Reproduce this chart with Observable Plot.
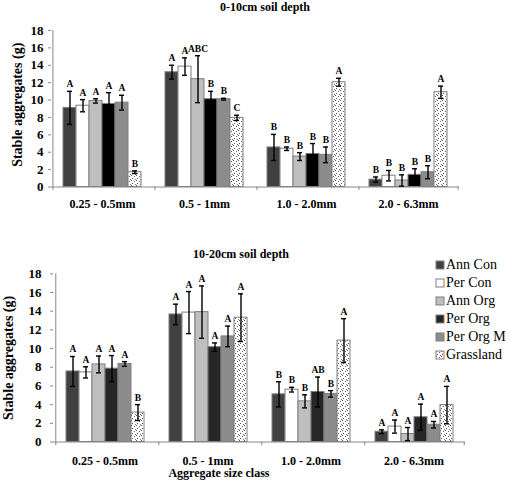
<!DOCTYPE html>
<html>
<head>
<meta charset="utf-8">
<script src="https://cdn.jsdelivr.net/npm/d3@7"></script>
<script src="https://cdn.jsdelivr.net/npm/@observablehq/plot@0.6"></script>
<style>
  html, body { margin: 0; padding: 0; background: #fff; }
  #wrap { position: relative; width: 510px; height: 482px; overflow: hidden; font-family: "Liberation Serif", serif; }
  #wrap > svg { display: block; }
  .lbl { position: absolute; font-weight: bold; white-space: nowrap; color: #000; transform: translateX(-50%); line-height: 14px; }
  #legend { position: absolute; left: 436px; top: 256px; }
  #legend [class$="-swatch"] { height: 18px; margin: 0; padding: 0; }
  #legend svg { margin-right: 2px !important; overflow: visible; }
  #legend svg rect { stroke: #7f7f7f; stroke-width: 1; }
</style>
</head>
<body>
<div id="wrap">
  <svg width="0" height="0" style="position:absolute">
    <defs>
      <pattern id="dots" width="5" height="5" patternUnits="userSpaceOnUse">
        <rect width="5" height="5" fill="#ffffff"></rect>
        <rect x="0" y="0" width="1" height="1" fill="#555"></rect>
        <rect x="3" y="1" width="1" height="1" fill="#666"></rect>
        <rect x="1" y="3" width="1" height="1" fill="#555"></rect>
        <rect x="4" y="4" width="1" height="1" fill="#777"></rect>
      </pattern>
    </defs>
  </svg>
</div>
<script>
const cats = ["0.25 - 0.5mm", "0.5 - 1mm", "1.0 - 2.0mm", "2.0 - 6.3mm"];
const trts = ["Ann Con", "Per Con", "Ann Org", "Per Org", "Per Org M", "Grassland"];
const yTicks = [0, 2, 4, 6, 8, 10, 12, 14, 16, 18];

// 0-10cm soil depth
const topMean = [
  [9.1, 9.35, 9.9, 9.55, 9.7, 1.7],
  [13.2, 13.85, 12.4, 10.1, 10.1, 7.95],
  [4.55, 4.4, 3.5, 3.8, 3.7, 12.05],
  [0.85, 1.3, 0.75, 1.4, 1.7, 10.9]
];
const topErr = [
  [1.9, 0.7, 0.25, 1.3, 0.85, 0.15],
  [0.8, 1.0, 2.7, 0.9, 0.1, 0.3],
  [1.5, 0.2, 0.45, 1.2, 0.9, 0.45],
  [0.3, 0.6, 0.65, 0.7, 0.75, 0.7]
];
const topLetters = [
  ["A", "A", "A", "A", "A", "B"],
  ["A", "A", "ABC", "B", "B", "C"],
  ["B", "B", "B", "B", "B", "A"],
  ["B", "B", "B", "B", "B", "A"]
];

// 10-20cm soil depth
const botMean = [
  [7.55, 7.45, 8.3, 7.85, 8.35, 3.15],
  [13.65, 13.85, 13.9, 10.15, 11.3, 13.3],
  [5.1, 5.6, 4.35, 5.35, 5.15, 10.85],
  [1.1, 1.65, 0.85, 2.65, 1.85, 3.95]
];
const botErr = [
  [1.6, 0.6, 0.9, 1.4, 0.25, 0.85],
  [1.1, 2.25, 2.8, 0.45, 1.1, 2.55],
  [1.35, 0.25, 0.7, 1.6, 0.35, 2.35],
  [0.2, 0.7, 0.7, 1.4, 0.35, 2.0]
];
const botLetters = [
  ["A", "A", "A", "A", "A", "B"],
  ["A", "A", "A", "A", "A", "A"],
  ["B", "B", "B", "AB", "B", "A"],
  ["A", "A", "A", "A", "A", "A"]
];

const topFills = ["#404040", "#ffffff", "#bfbfbf", "#000000", "#8c8c8c", "url(#dots)"];
const botFills = ["#404040", "#ffffff", "#bfbfbf", "#262626", "#8c8c8c", "url(#dots)"];

const yLabel = "Stable aggregates (g)";

function chart(o) {
  const rows = [];
  cats.forEach((c, i) => trts.forEach((t, j) => rows.push({
    cls: c, trt: t, v: o.mean[i][j],
    lo: o.mean[i][j] - o.err[i][j], hi: o.mean[i][j] + o.err[i][j],
    lab: o.letters[i][j]
  })));
  const W = 510;
  const fw = (W - o.ml - o.mr) / cats.length;
  const step = fw / 7.5;
  const off = 1.25 * step;
  return Plot.plot({
    width: W, height: o.height,
    marginTop: o.mt, marginBottom: o.mb, marginLeft: o.ml, marginRight: o.mr,
    style: {fontFamily: "'Liberation Serif', serif", fontWeight: "bold", fontSize: "13px", color: "#000", background: "transparent", overflow: "visible"},
    fx: {domain: cats, padding: 0, label: null},
    x: {domain: trts, paddingInner: 0, paddingOuter: 0.75, axis: null},
    y: {domain: [0, 18], label: null},
    color: {domain: trts, range: o.fills},
    marks: [
      Plot.axisY({ticks: yTicks, tickSize: 3, tickPadding: o.yPad, tickFormat: d => d, label: null, stroke: "#888", fontSize: 13}),
      Plot.axisFx({anchor: "bottom", tickSize: 0, tickPadding: o.fxPad, label: null, fontSize: 12}),
      Plot.barY(rows, {fx: "cls", x: "trt", y: "v", fill: "trt", stroke: "#7f7f7f", strokeWidth: 1}),
      Plot.ruleY([0], {stroke: "#888"}),
      Plot.ruleX([cats[0]], {fx: d => d, x: () => trts[0], y1: 0, y2: 18, dx: -off, stroke: "#888"}),
      Plot.ruleX(cats, {fx: d => d, x: () => trts[0], y1: 0, y2: -0.4, dx: -off, stroke: "#888"}),
      Plot.ruleX([cats[3]], {fx: d => d, x: () => trts[5], y1: 0, y2: -0.4, dx: off, stroke: "#888"}),
      Plot.ruleX(rows, {fx: "cls", x: "trt", y1: "lo", y2: "hi", stroke: "#000", strokeWidth: 1.4}),
      Plot.tickY(rows, {fx: "cls", x: "trt", y: "hi", insetLeft: 4, insetRight: 4, stroke: "#000", strokeWidth: 1.4}),
      Plot.tickY(rows, {fx: "cls", x: "trt", y: "lo", insetLeft: 4, insetRight: 4, stroke: "#000", strokeWidth: 1.4}),
      Plot.text(rows, {fx: "cls", x: "trt", y: "hi", text: "lab", dy: -4, lineAnchor: "bottom", fontSize: 9.5, fontWeight: "bold", fill: "#000"}),
      Plot.text([yLabel], {fx: () => cats[0], frameAnchor: "left", textAnchor: "middle", lineAnchor: "middle", rotate: -90, dx: o.ylDx, dy: o.ylDy, fontSize: 14, fontWeight: "bold", fill: "#000", text: d => d})
    ]
  });
}

const wrap = document.getElementById("wrap");

wrap.appendChild(chart({
  mean: topMean, err: topErr, letters: topLetters, fills: topFills,
  height: 230, mt: 30, mb: 43.5, ml: 50, mr: 50, yPad: 5, fxPad: 12, ylDx: -34, ylDy: -4
}));
wrap.appendChild(chart({
  mean: botMean, err: botErr, letters: botLetters, fills: botFills,
  height: 252, mt: 43.3, mb: 40.5, ml: 52, mr: 45, yPad: 9, fxPad: 14, ylDx: -44.5, ylDy: 0
}));

function label(text, cx, top, size) {
  const d = document.createElement("div");
  d.className = "lbl";
  d.textContent = text;
  d.style.left = cx + "px";
  d.style.top = top + "px";
  d.style.fontSize = size + "px";
  wrap.appendChild(d);
}
label("0-10cm soil depth", 265, 0, 12);
label("10-20cm soil depth", 241, 247, 12);
label("Aggregate size class", 219, 466, 12);

const leg = Plot.legend({
  color: {type: "ordinal", domain: trts, range: botFills},
  legend: "swatches",
  columns: 1,
  swatchSize: 8,
  style: {fontFamily: "'Liberation Serif', serif", fontSize: "14px", color: "#000", background: "transparent"}
});
const legBox = document.createElement("div");
legBox.id = "legend";
legBox.appendChild(leg);
wrap.appendChild(legBox);
</script>
</body>
</html>
